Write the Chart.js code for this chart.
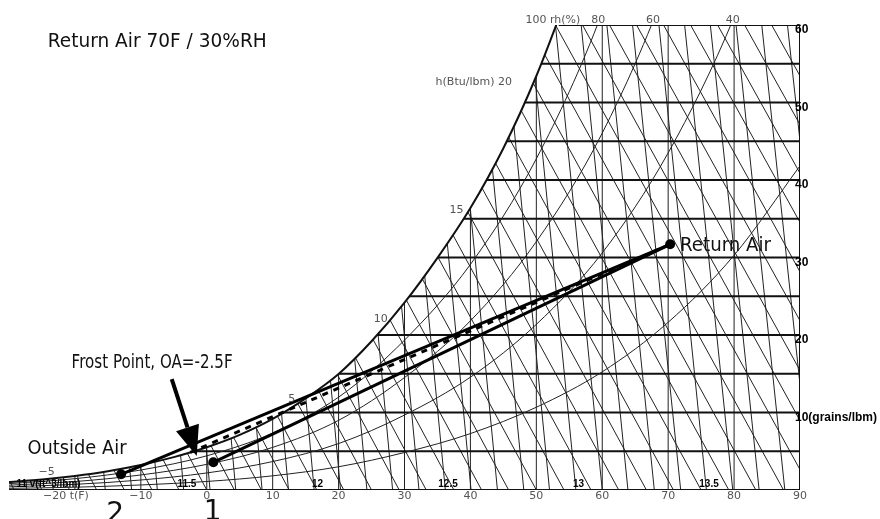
<!DOCTYPE html>
<html>
<head>
<meta charset="utf-8">
<title>Psychrometric chart - return air / outside air</title>
<script src="https://cdn.jsdelivr.net/npm/chart.js@4.4.1/dist/chart.umd.min.js"></script>
<style>
  html, body { margin: 0; padding: 0; background: #fff; }
  #wrap { width: 880px; height: 519px; position: relative; }
</style>
</head>
<body>
<div id="wrap"><canvas id="psychChart"></canvas></div>
<script>
// x = dry bulb t(F), y = humidity ratio (grains/lbm)
const tempTicks = [-20, -10, 0, 10, 20, 30, 40, 50, 60, 70, 80, 90];
const grainTicks = [10, 20, 30, 40, 50, 60];
const grainLines = [5, 10, 15, 20, 25, 30, 35, 40, 45, 50, 55];
const dryBulbLines = [-20, -10, 0, 10, 20, 30, 40, 50, 60, 70, 80];

// saturation (100% rh)
const satTemps = [-35, -30, -25, -20, -15, -10, -5, 0, 5, 10, 15, 20, 25, 30, 35, 40, 45, 50, 55];
const satGrains = [0.76, 1.03, 1.36, 1.82, 2.43, 3.23, 4.24, 5.51, 7.11, 9.17, 11.82, 14.98, 19.2, 24.18, 29.96, 36.39, 44.1, 53.42, 64.46];

// relative humidity curves
const rhTemps = [-30, -20, -10, 0, 10, 20, 30, 40, 50, 60, 70, 80, 90];
const rh20 = [0.21, 0.36, 0.65, 1.1, 1.83, 3.0, 4.84, 7.28, 10.68, 15.25, 21.64, 30.29, 41.83];
const rh40 = [0.41, 0.73, 1.29, 2.2, 3.67, 5.99, 9.67, 14.56, 21.37, 30.6, 43.5, 61.01, 84.45];
const rh60 = [0.62, 1.09, 1.94, 3.31, 5.5, 8.99, 14.51, 21.83, 32.05, 46.06, 65.57, 92.15, 127.9];
const rh80 = [0.82, 1.46, 2.58, 4.41, 7.34, 11.98, 19.34, 29.11, 42.74, 61.64, 87.9, 123.7, 172.2];

// enthalpy lines h(Btu/lbm): t at 0 grains and t at 60 grains
const enthalpyValues = [-7, -6, -5, -4, -3, -2, -1, 0, 1, 2, 3, 4, 5, 6, 7, 8, 9, 10, 11, 12, 13, 14, 15, 16, 17, 18, 19, 20, 21, 22, 23, 24, 25, 26, 27, 28, 29, 30, 31];
const enthalpyBottomT = [-29.2, -25.0, -20.8, -16.7, -12.5, -8.3, -4.2, 0, 4.2, 8.3, 12.5, 16.7, 20.8, 25.0, 29.2, 33.3, 37.5, 41.7, 45.8, 50.0, 54.2, 58.3, 62.5, 66.7, 70.8, 75.0, 79.2, 83.3, 87.5, 91.7, 95.8, 100.0, 104.2, 108.3, 112.5, 116.7, 120.8, 125.0, 129.2];
const enthalpyTopT = [-66.0, -61.9, -57.8, -53.7, -49.6, -45.5, -41.4, -37.3, -33.2, -29.1, -25.0, -20.9, -16.8, -12.7, -8.6, -4.5, -0.4, 3.7, 7.8, 11.9, 16.0, 20.1, 24.2, 28.3, 32.4, 36.5, 40.6, 44.7, 48.8, 52.9, 57.0, 61.1, 65.2, 69.3, 73.4, 77.5, 81.6, 85.7, 89.9];

// specific volume lines v(ft^3/lbm)
const volumeValues = [10.9, 11.0, 11.1, 11.2, 11.3, 11.4, 11.5, 11.6, 11.7, 11.8, 11.9, 12.0, 12.1, 12.2, 12.3, 12.4, 12.5, 12.6, 12.7, 12.8, 12.9, 13.0, 13.1, 13.2, 13.3, 13.4, 13.5, 13.6, 13.7, 13.8, 13.9, 14.0];
const volumeBottomT = [-27.3, -23.3, -19.4, -15.4, -11.4, -7.5, -3.5, 0.5, 4.4, 8.4, 12.4, 16.3, 20.3, 24.3, 28.2, 32.2, 36.2, 40.1, 44.1, 48.1, 52.0, 56.0, 60.0, 63.9, 67.9, 71.9, 75.8, 79.8, 83.8, 87.7, 91.7, 95.7];
const volumeTopT = [-33.2, -29.3, -25.4, -21.4, -17.5, -13.6, -9.7, -5.8, -1.9, 2.0, 6.0, 9.9, 13.8, 17.7, 21.6, 25.5, 29.4, 33.3, 37.3, 41.2, 45.1, 49.0, 52.9, 56.8, 60.7, 64.6, 68.6, 72.5, 76.4, 80.3, 84.2, 88.1];
const volumeLabels = ["11 v(ft^3/lbm)", "11.5", "12", "12.5", "13", "13.5"];
const volumeLabelT = [-24.0, -3.0, 16.8, 36.6, 56.4, 76.2];

// process points
const outsideAir = { x: -13.0, y: 2.03 };
const preheatedOA = { x: 1.0, y: 3.57 };
const returnAir = { x: 70.3, y: 31.7 };
const frostPoint = { x: -2.5, y: 4.85 };

const topLineStartT = 53.4;

function seg(points, width, extra) {
  return Object.assign(
    {
      data: points,
      borderColor: "#111",
      borderWidth: width,
      pointRadius: 0,
      fill: false,
      tension: 0,
    },
    extra || {},
  );
}

function buildDatasets() {
  const sets = [];

  // process lines and points (drawn on top)
  sets.push({
    data: [outsideAir, preheatedOA, returnAir],
    showLine: false,
    pointRadius: 5,
    pointBackgroundColor: "#000",
    pointBorderColor: "#000",
    pointBorderWidth: 0,
  });
  sets.push(seg([outsideAir, returnAir], 3, { borderColor: "#000" }));
  sets.push(seg([preheatedOA, returnAir], 3, { borderColor: "#000" }));
  sets.push(seg([frostPoint, returnAir], 3, { borderColor: "#000", borderDash: [6, 6] }));

  // frame
  sets.push(seg([{ x: -30, y: 0 }, { x: 90, y: 0 }], 2));
  sets.push(seg([{ x: 90, y: 0 }, { x: 90, y: 60 }], 2));
  sets.push(seg([{ x: topLineStartT, y: 60 }, { x: 90, y: 60 }], 2));

  // saturation curve, white fill hides grid beyond it
  sets.push({
    data: satTemps.map((t, i) => ({ x: t, y: satGrains[i] })),
    borderColor: "#111",
    borderWidth: 2,
    pointRadius: 0,
    cubicInterpolationMode: "monotone",
    fill: "end",
    backgroundColor: "#fff",
  });

  [rh20, rh40, rh60, rh80].forEach((curve) => {
    sets.push(
      seg(
        rhTemps.map((t, i) => ({ x: t, y: curve[i] })),
        1,
        { cubicInterpolationMode: "monotone", borderColor: "#222" },
      ),
    );
  });

  grainLines.forEach((w) => {
    sets.push(seg([{ x: -30, y: w }, { x: 90, y: w }], 2));
  });

  dryBulbLines.forEach((t) => {
    sets.push(seg([{ x: t, y: 0 }, { x: t, y: 60 }], 1, { borderColor: "#222" }));
  });

  enthalpyValues.forEach((h, i) => {
    sets.push(
      seg([{ x: enthalpyBottomT[i], y: 0 }, { x: enthalpyTopT[i], y: 60 }], 1, {
        borderColor: "#222",
      }),
    );
  });

  volumeValues.forEach((v, i) => {
    sets.push(
      seg([{ x: volumeBottomT[i], y: 0 }, { x: volumeTopT[i], y: 60 }], 1, {
        borderColor: "#222",
      }),
    );
  });

  return sets;
}

function drawFitted(ctx, text, px, py, width, font) {
  ctx.save();
  ctx.font = font;
  const natural = ctx.measureText(text).width;
  ctx.translate(px, py);
  ctx.scale(width / natural, 1);
  ctx.textAlign = "left";
  ctx.textBaseline = "alphabetic";
  ctx.fillText(text, 0, 0);
  ctx.restore();
}

const labelPlugin = {
  id: "psychLabels",
  afterDatasetsDraw(chart) {
    const { ctx } = chart;
    const xs = chart.scales.x;
    const ys = chart.scales.y;
    const px = (t) => xs.getPixelForValue(t);
    const py = (w) => ys.getPixelForValue(w);

    ctx.save();

    // dry bulb tick labels
    ctx.fillStyle = "#555";
    ctx.font = "11px 'DejaVu Sans'";
    ctx.textBaseline = "top";
    tempTicks.forEach((t) => {
      const txt = t < 0 ? "\u2212" + Math.abs(t) : String(t);
      if (t === -20) {
        ctx.textAlign = "left";
        ctx.fillText(txt + " t(F)", px(t) - 32, py(0) + 1);
      } else {
        ctx.textAlign = "center";
        ctx.fillText(txt, px(t), py(0) + 1);
      }
    });

    // rh labels on top
    ctx.textBaseline = "middle";
    ctx.textAlign = "center";
    ctx.fillText("100 rh(%)", px(52.5), py(60.6));
    ctx.fillText("80", px(59.4), py(60.6));
    ctx.fillText("60", px(67.7), py(60.6));
    ctx.fillText("40", px(79.8), py(60.6));

    // enthalpy labels
    ctx.fillText("\u22125", px(-24.3), py(2.3));
    ctx.fillText("5", px(12.9), py(11.7));
    ctx.fillText("10", px(26.4), py(22.1));
    ctx.fillText("15", px(37.9), py(36.1));
    ctx.textAlign = "right";
    ctx.fillText("h(Btu/lbm) 20", px(46.3), py(52.6));

    // humidity ratio labels on the right
    ctx.fillStyle = "#000";
    ctx.font = "bold 12px 'Liberation Sans'";
    ctx.textAlign = "left";
    grainTicks.forEach((g) => {
      const txt = g === 10 ? "10(grains/lbm)" : String(g);
      ctx.fillText(txt, px(90) - 5, py(g) + 5);
    });

    // specific volume labels
    ctx.font = "bold 10px 'Liberation Sans'";
    ctx.textAlign = "center";
    ctx.textBaseline = "alphabetic";
    volumeLabels.forEach((txt, i) => {
      ctx.fillText(txt, px(volumeLabelT[i]), py(0.39));
    });

    // annotations
    ctx.fillStyle = "#111";
    const big = "19px 'DejaVu Sans'";
    drawFitted(ctx, "Return Air 70F / 30%RH", px(-24.13), py(57.16), 219, big);
    drawFitted(ctx, "Return Air", px(71.8), py(30.84), 91, big);
    drawFitted(ctx, "Outside Air", px(-27.2), py(4.65), 99, big);
    drawFitted(ctx, "Frost Point, OA=-2.5F", px(-20.5), py(15.74), 161, big);

    ctx.font = "28px 'DejaVu Sans'";
    ctx.textAlign = "center";
    ctx.textBaseline = "alphabetic";
    ctx.fillText("2", px(-13.9), py(-4.1));
    ctx.fillText("1", px(0.9), py(-3.9));

    // arrow to frost point
    const tail = { x: px(-5.31), y: py(14.32) };
    const tip = { x: px(-1.52), y: py(4.39) };
    const ang = Math.atan2(tip.y - tail.y, tip.x - tail.x);
    const headLen = 30;
    const headHalf = 12;
    const baseX = tip.x - headLen * Math.cos(ang);
    const baseY = tip.y - headLen * Math.sin(ang);
    ctx.strokeStyle = "#000";
    ctx.fillStyle = "#000";
    ctx.lineWidth = 4;
    ctx.beginPath();
    ctx.moveTo(tail.x, tail.y);
    ctx.lineTo(baseX, baseY);
    ctx.stroke();
    ctx.beginPath();
    ctx.moveTo(tip.x, tip.y);
    ctx.lineTo(baseX + headHalf * Math.sin(ang), baseY - headHalf * Math.cos(ang));
    ctx.lineTo(baseX - headHalf * Math.sin(ang), baseY + headHalf * Math.cos(ang));
    ctx.closePath();
    ctx.fill();

    ctx.restore();
  },
};

function renderPsychChart() {
  const ctx = document.getElementById("psychChart");
  return new Chart(ctx, {
    type: "line",
    data: { datasets: buildDatasets() },
    options: {
      responsive: true,
      maintainAspectRatio: false,
      animation: false,
      events: [],
      layout: { padding: { left: 9, right: 80, top: 25, bottom: 29 } },
      scales: {
        x: { type: "linear", min: -30, max: 90, display: false },
        y: { type: "linear", min: 0, max: 60, display: false },
      },
      plugins: {
        legend: { display: false },
        tooltip: { enabled: false },
      },
    },
    plugins: [labelPlugin],
  });
}

renderPsychChart();
</script>
</body>
</html>
